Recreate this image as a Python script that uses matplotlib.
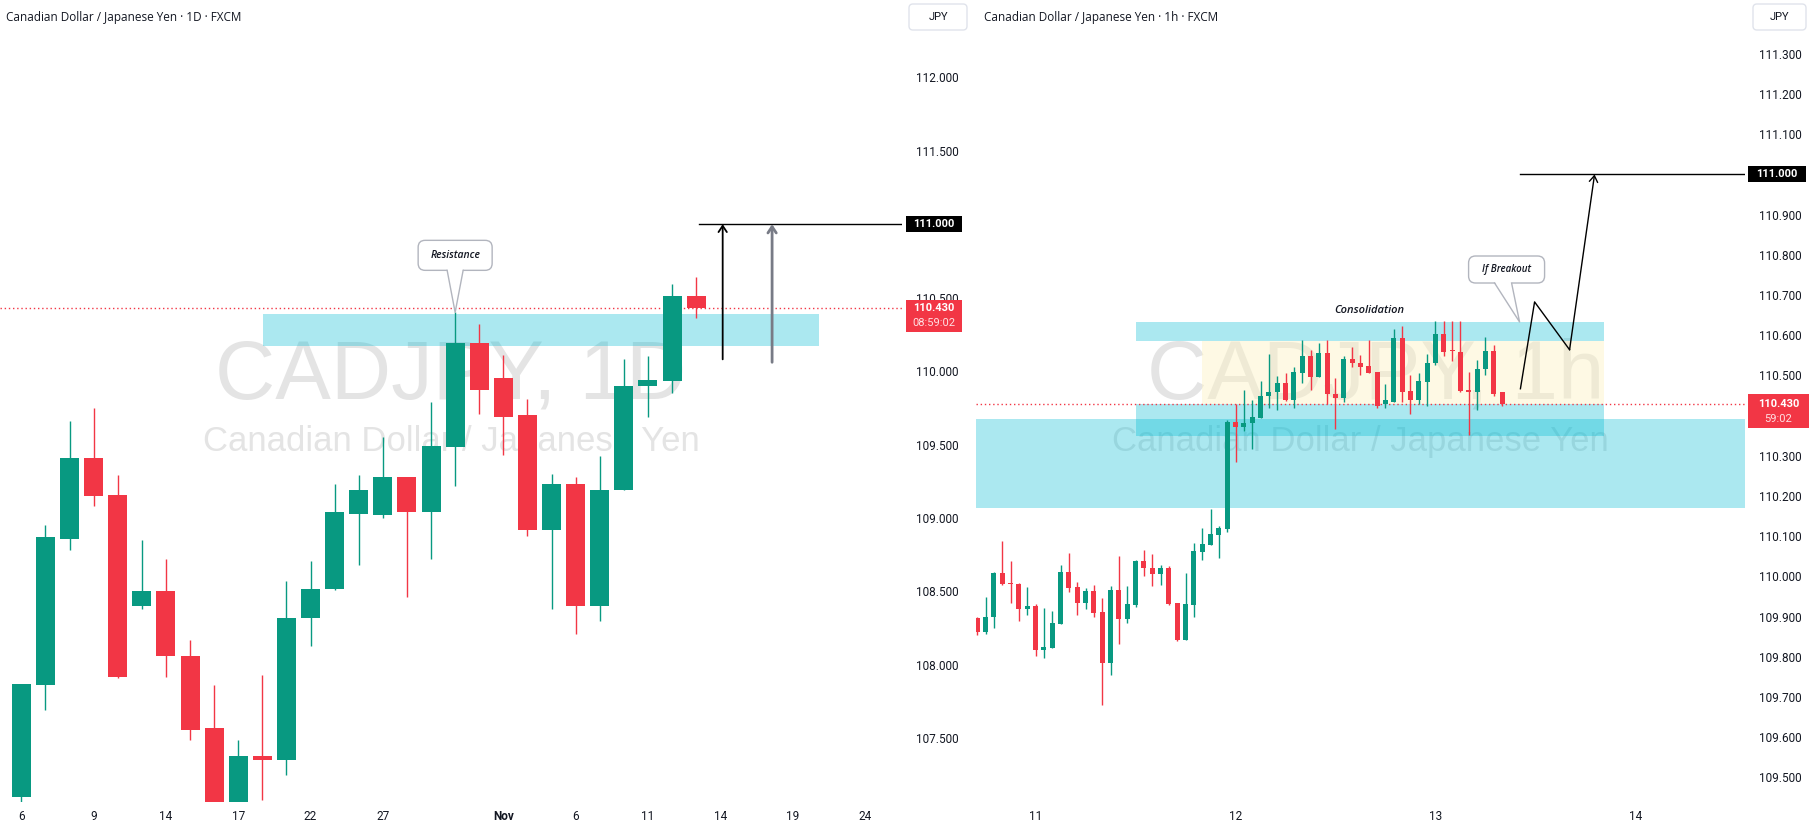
import matplotlib
matplotlib.use("Agg")
import matplotlib.pyplot as plt
import matplotlib.transforms as mtransforms
from matplotlib.patches import FancyBboxPatch, Polygon, Rectangle
import numpy as np

plt.rcParams['font.family'] = ['Roboto', 'DejaVu Sans']

GREEN = '#089981'
RED = '#f23645'
TXT = '#131722'
BAND = '#00bcd4'
WM = '#e4e4e4'

# ---------------- daily (left) ----------------
d_open = [107.10, 107.86, 108.86, 109.41, 109.16, 108.40, 108.50, 108.06, 107.57, 107.02,
          107.38, 107.35, 108.32, 108.52, 109.03, 109.02, 109.28, 109.04, 109.48, 110.19,
          109.95, 109.70, 108.92, 109.23, 108.40, 109.19, 109.90, 109.93, 110.51]
d_high = [107.87, 108.95, 109.66, 109.75, 109.29, 108.85, 108.72, 108.17, 107.86, 107.49,
          107.93, 108.57, 108.71, 109.23, 109.29, 109.55, 109.28, 109.79, 110.40, 110.32,
          110.11, 109.81, 109.30, 109.28, 109.42, 110.08, 110.10, 110.59, 110.64]
d_low = [107.06, 107.69, 108.78, 109.08, 107.91, 108.38, 107.92, 107.49, 106.95, 106.95,
         107.08, 107.25, 108.13, 108.51, 108.68, 109.00, 108.46, 108.72, 109.22, 109.71,
         109.43, 108.88, 108.38, 108.21, 108.30, 109.19, 109.69, 109.85, 110.36]
d_close = [107.87, 108.87, 109.41, 109.15, 107.92, 108.50, 108.06, 107.56, 107.02, 107.38,
           107.35, 108.32, 108.52, 109.04, 109.19, 109.28, 109.04, 109.49, 110.19, 109.87,
           109.69, 108.92, 109.23, 108.40, 109.19, 109.90, 109.94, 110.51, 110.43]
d_tick_pos = [0, 3, 6, 9, 12, 15, 20, 23, 26, 29, 32, 35]
d_tick_lab = ['6', '9', '14', '17', '22', '27', 'Nov', '6', '11', '14', '19', '24']
d_yticks = [107.5, 108.0, 108.5, 109.0, 109.5, 110.0, 110.5, 111.5, 112.0]

# ---------------- hourly (right) ----------------
h_open = [109.897, 109.861, 109.898, 110.009, 109.984, 109.982, 109.918, 109.927, 109.816, 109.823,
          109.883, 110.011, 109.974, 109.933, 109.964, 109.912, 109.786, 109.967, 109.893, 109.929,
          110.039, 110.021, 110.006, 110.021, 109.934, 109.842, 109.929, 110.061, 110.079, 110.104,
          110.118, 110.384, 110.373, 110.381, 110.395, 110.448, 110.458, 110.482, 110.438, 110.507,
          110.549, 110.497, 110.556, 110.454, 110.445, 110.541, 110.531, 110.524, 110.509, 110.429,
          110.433, 110.594, 110.462, 110.440, 110.485, 110.530, 110.604, 110.562, 110.559, 110.464,
          110.458, 110.515, 110.561, 110.458]
h_high = [109.900, 109.949, 110.011, 110.089, 110.039, 109.984, 109.974, 109.932, 109.922, 109.914,
          110.029, 110.059, 109.987, 109.972, 109.979, 109.947, 109.977, 110.051, 109.977, 110.040,
          110.066, 110.056, 110.029, 110.026, 109.934, 110.009, 110.084, 110.121, 110.168, 110.126,
          110.390, 110.430, 110.464, 110.439, 110.487, 110.554, 110.499, 110.506, 110.521, 110.589,
          110.564, 110.581, 110.589, 110.494, 110.549, 110.571, 110.551, 110.589, 110.509, 110.479,
          110.616, 110.623, 110.501, 110.506, 110.554, 110.636, 110.636, 110.636, 110.636, 110.509,
          110.539, 110.596, 110.576, 110.458]
h_low = [109.855, 109.858, 109.873, 109.980, 109.935, 109.890, 109.905, 109.803, 109.798, 109.823,
         109.883, 109.962, 109.905, 109.920, 109.900, 109.681, 109.756, 109.831, 109.885, 109.924,
         110.000, 109.977, 109.979, 109.930, 109.840, 109.842, 109.900, 110.041, 110.079, 110.046,
         110.111, 110.286, 110.363, 110.318, 110.395, 110.420, 110.415, 110.436, 110.420, 110.482,
         110.465, 110.497, 110.430, 110.368, 110.435, 110.522, 110.500, 110.507, 110.420, 110.418,
         110.433, 110.433, 110.405, 110.428, 110.425, 110.525, 110.549, 110.535, 110.460, 110.351,
         110.413, 110.502, 110.448, 110.425]
h_close = [109.861, 109.899, 110.009, 109.982, 109.981, 109.918, 109.927, 109.816, 109.825, 109.885,
           110.011, 109.972, 109.933, 109.964, 109.910, 109.786, 109.967, 109.893, 109.932, 110.039,
           110.020, 110.006, 110.021, 109.932, 109.842, 109.932, 110.064, 110.081, 110.106, 110.121,
           110.384, 110.373, 110.382, 110.397, 110.449, 110.459, 110.482, 110.438, 110.509, 110.549,
           110.497, 110.556, 110.453, 110.445, 110.541, 110.530, 110.522, 110.507, 110.423, 110.438,
           110.594, 110.460, 110.440, 110.487, 110.531, 110.604, 110.559, 110.560, 110.462, 110.458,
           110.516, 110.561, 110.455, 110.430]
h_tick_pos = [7, 31, 55, 79]
h_tick_lab = ['11', '12', '13', '14']
h_yticks = [109.5, 109.6, 109.7, 109.8, 109.9, 110.0, 110.1, 110.2, 110.3, 110.5,
            110.6, 110.7, 110.8, 110.9, 111.1, 111.2, 111.3]

last_price = 110.43
target = 111.0
zone = (110.171, 110.392)
cons_top = (110.585, 110.633)
cons_bot = (110.350, 110.429)
cons_x = (19.05, 75.2)
path_x = [65.2, 66.9, 71.1, 74.1]
path_y = [110.467, 110.683, 110.564, 111.0]


def candles(ax, o, h, l, c, width, min_body):
    x = np.arange(len(o))
    o, h, l, c = map(np.asarray, (o, h, l, c))
    cols = np.where(c >= o, GREEN, RED)
    ax.vlines(x, l, h, colors=cols, lw=1.0, zorder=3)
    body = np.maximum(np.abs(c - o), min_body)
    ax.bar(x, body, width, bottom=np.minimum(o, c), color=cols, lw=0, zorder=4)


def px_at(ax, x, y, coords=None):
    # transform whose units are pixels, origin at (x, y)
    return mtransforms.Affine2D() + mtransforms.ScaledTranslation(x, y, coords or ax.transData)


def tag(ax, y, lines, fc, x0, x1, top, bot):
    bl = mtransforms.blended_transform_factory(ax.transAxes, ax.transData)
    tr = px_at(ax, 1.0, y, bl)
    ax.add_patch(Rectangle((x0, bot), x1 - x0, top - bot, transform=tr, fc=fc, ec='none',
                           zorder=20, clip_on=False))
    for k, (s, fs, col) in enumerate(lines):
        ax.annotate(s, xy=(1.0, y), xycoords=bl, xytext=((x0 + x1) / 2, -15 * k),
                    textcoords='offset pixels', ha='center', va='center', fontsize=fs,
                    color=col, fontweight='bold' if k == 0 else 'normal', zorder=21,
                    annotation_clip=False)


def jpy_box(ax, x0, x1):
    tr = px_at(ax, 1.0, 1.0, ax.transAxes)
    ax.add_patch(FancyBboxPatch((x0, -30), x1 - x0, 26, boxstyle='round,pad=0,rounding_size=4',
                                transform=tr, fc='white', ec='#e0e3eb', lw=1, clip_on=False,
                                zorder=20))
    ax.annotate('JPY', xy=(1.0, 1.0), xycoords='axes fraction', xytext=((x0 + x1) / 2, -17),
                textcoords='offset pixels', ha='center', va='center', fontsize=8, color=TXT,
                annotation_clip=False, zorder=21)


def callout(ax, x, y, text, bx0, bx1, by0, by1, p0, p1, fs):
    tr = px_at(ax, x, y)
    ax.add_patch(FancyBboxPatch((bx0, by0), bx1 - bx0, by1 - by0,
                                boxstyle='round,pad=0,rounding_size=7', transform=tr,
                                fc='white', ec='#b2b5be', lw=1, zorder=8))
    ax.add_patch(Polygon([(p0, by0 + 1.5), (0, 0), (p1, by0 + 1.5)], closed=True, transform=tr,
                         fc='white', ec='none', zorder=9))
    ax.plot([p0, 0, p1], [by0, 0, by0], transform=tr, color='#b2b5be', lw=1, zorder=10)
    ax.annotate(text, xy=(x, y), xytext=((bx0 + bx1) / 2, (by0 + by1) / 2),
                textcoords='offset pixels', ha='center', va='center', fontsize=fs,
                style='italic', fontweight='semibold', color=TXT, zorder=11,
                family=['Open Sans', 'DejaVu Sans'])


W, H = 1810, 831
fig = plt.figure(figsize=(W / 100, H / 100), dpi=100)
fig.patch.set_facecolor('white')
ax1 = fig.add_axes([0, 29 / H, 902 / W, 802 / H])
ax2 = fig.add_axes([976 / W, 29 / H, 769 / W, 802 / H])

for ax in (ax1, ax2):
    for s in ax.spines.values():
        s.set_visible(False)
    ax.yaxis.tick_right()
    ax.tick_params(axis='both', length=0, labelsize=8.5, labelcolor=TXT)
    ax.tick_params(axis='y', pad=10)
    ax.tick_params(axis='x', pad=6)

# ---- left panel ----
ax1.set_xlim(-0.884, 36.54)
ax1.set_ylim(107.067, 112.526)
ax1.set_yticks(d_yticks)
ax1.set_yticklabels([f'{v:.3f}' for v in d_yticks])
ax1.set_xticks(d_tick_pos)
ax1.set_xticklabels(d_tick_lab)
for t in ax1.get_xticklabels():
    if t.get_text() == 'Nov':
        t.set_fontweight('bold')

ax1.text(0.5, 0.531, 'CADJPY, 1D', transform=ax1.transAxes, ha='center', va='center',
         fontsize=60, color=WM, zorder=0, family=['Liberation Sans', 'DejaVu Sans'])
ax1.text(0.5, 0.449, 'Canadian Dollar / Japanese Yen', transform=ax1.transAxes, ha='center',
         va='center', fontsize=25, color=WM, zorder=0, family=['Liberation Sans', 'DejaVu Sans'])

ax1.add_patch(Rectangle((10.03, zone[0]), 33.1 - 10.03, zone[1] - zone[0], fc=BAND, alpha=0.33,
                        ec='none', zorder=1))
candles(ax1, d_open, d_high, d_low, d_close, 0.79, 0.02)
ax1.axhline(last_price, color=RED, lw=1, ls=(0, (1, 2)), zorder=2)
ax1.plot([28.1, 36.54], [target, target], color='black', lw=1, zorder=5)
ax1.annotate('', xy=(29.1, target), xytext=(29.1, 110.08),
             arrowprops=dict(arrowstyle='->,head_length=0.45,head_width=0.3', lw=1.3,
                             color='black', shrinkA=0, shrinkB=0), zorder=5)
ax1.annotate('', xy=(31.15, target), xytext=(31.15, 110.06),
             arrowprops=dict(arrowstyle='->,head_length=0.45,head_width=0.3', lw=2,
                             color='#787b86', shrinkA=0, shrinkB=0), zorder=5)
callout(ax1, 18, 110.40, 'Resistance', -37, 37, 42, 72, -8, 8, 7.5)

ax1.annotate('Canadian Dollar / Japanese Yen · 1D · FXCM', xy=(0, 1), xycoords='axes fraction',
             xytext=(6, -17), textcoords='offset pixels', ha='left', va='center', fontsize=8.5,
             color=TXT, family=['Open Sans', 'DejaVu Sans'])
tag(ax1, target, [('111.000', 8, 'white')], 'black', 4, 60, 8, -8)
tag(ax1, last_price, [('110.430', 8, 'white'), ('08:59:02', 8, '#ffe0e3')], RED, 4, 60, 8, -24)
jpy_box(ax1, 7, 65)

# ---- right panel ----
ax2.set_xlim(-0.156, 92.16)
ax2.set_ylim(109.439, 111.434)
ax2.set_yticks(h_yticks)
ax2.set_yticklabels([f'{v:.3f}' for v in h_yticks])
ax2.set_xticks(h_tick_pos)
ax2.set_xticklabels(h_tick_lab)

ax2.text(0.52, 0.531, 'CADJPY, 1h', transform=ax2.transAxes, ha='center', va='center',
         fontsize=60, color=WM, zorder=0, family=['Liberation Sans', 'DejaVu Sans'])
ax2.text(0.5, 0.449, 'Canadian Dollar / Japanese Yen', transform=ax2.transAxes, ha='center',
         va='center', fontsize=25, color=WM, zorder=0, family=['Liberation Sans', 'DejaVu Sans'])

ax2.axhspan(zone[0], zone[1], fc=BAND, alpha=0.33, ec='none', zorder=1)
ax2.add_patch(Rectangle((27.0, cons_bot[1]), cons_x[1] - 27.0, cons_top[0] - cons_bot[1],
                        fc='#fdf3c4', alpha=0.45, ec='none', zorder=1))
for lo, hi in (cons_top, cons_bot):
    ax2.add_patch(Rectangle((cons_x[0], lo), cons_x[1] - cons_x[0], hi - lo, fc=BAND,
                            alpha=0.33, ec='none', zorder=1))
candles(ax2, h_open, h_high, h_low, h_close, 0.6, 0.004)
ax2.axhline(last_price, color=RED, lw=1, ls=(0, (1, 2)), zorder=2)
ax2.plot([path_x[0], 92.16], [target, target], color='black', lw=1, zorder=5)
ax2.plot(path_x[:-1], path_y[:-1], color='black', lw=1, zorder=5)
ax2.annotate('', xy=(path_x[-1], path_y[-1]), xytext=(path_x[-2], path_y[-2]),
             arrowprops=dict(arrowstyle='->,head_length=0.45,head_width=0.3', lw=1,
                             color='black', shrinkA=0, shrinkB=0), zorder=5)
ax2.text(47.1, 110.661, 'Consolidation', ha='center', va='center', fontsize=8, style='italic',
         fontweight='semibold', color=TXT, zorder=6, family=['Open Sans', 'DejaVu Sans'])
callout(ax2, 65.1, 110.633, 'If Breakout', -51, 25, 39, 66, -25, -8, 7)

ax2.annotate('Canadian Dollar / Japanese Yen · 1h · FXCM', xy=(0, 1), xycoords='axes fraction',
             xytext=(8, -17), textcoords='offset pixels', ha='left', va='center', fontsize=8.5,
             color=TXT, family=['Open Sans', 'DejaVu Sans'])
tag(ax2, target, [('111.000', 8, 'white')], 'black', 3, 61, 8, -8)
tag(ax2, last_price, [('110.430', 8, 'white'), ('59:02', 8, '#ffe0e3')], RED, 3, 64, 10, -24)
jpy_box(ax2, 8, 61)

fig.savefig('out.png', dpi=100, facecolor='white')
